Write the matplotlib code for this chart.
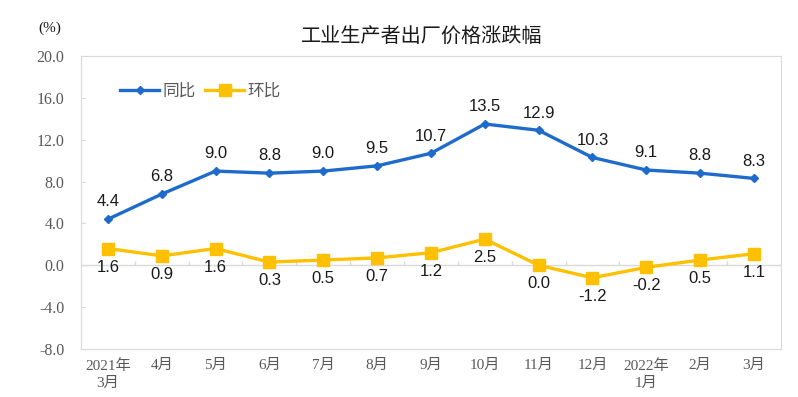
import numpy as np
import matplotlib.pyplot as plt

plt.rcParams['font.family'] = ['Liberation Sans', 'Noto Sans CJK SC']

months = ['2021年\n3月', '4月', '5月', '6月', '7月', '8月', '9月', '10月',
          '11月', '12月', '2022年\n1月', '2月', '3月']
yoy = [4.4, 6.8, 9.0, 8.8, 9.0, 9.5, 10.7, 13.5, 12.9, 10.3, 9.1, 8.8, 8.3]
mom = [1.6, 0.9, 1.6, 0.3, 0.5, 0.7, 1.2, 2.5, 0.0, -1.2, -0.2, 0.5, 1.1]
yticks = [-8.0, -4.0, 0.0, 4.0, 8.0, 12.0, 16.0, 20.0]

blue = '#1F6BCB'
yellow = '#FFC000'
grey = '#595959'

fig = plt.figure(figsize=(7.98, 3.97), dpi=100)
ax = fig.add_axes([0.1015, 0.121, 0.877, 0.738])
x = np.arange(len(months))

ax.plot(x, yoy, color=blue, lw=2.4, marker='D', ms=4.5, label='同比', zorder=3)
ax.plot(x, mom, color=yellow, lw=2.4, marker='s', ms=8.5, label='环比', zorder=3)

for xi, v in zip(x, yoy):
    ax.annotate(f'{v:.1f}', (xi, v), xytext=(0, 7), textcoords='offset points',
                ha='center', va='bottom', fontsize=12, color='#1a1a1a')
for xi, v in zip(x, mom):
    ax.annotate(f'{v:.1f}', (xi, v), xytext=(0, -8), textcoords='offset points',
                ha='center', va='top', fontsize=12, color='#1a1a1a')

ax.axhline(0, color='#D9D9D9', lw=1, zorder=1)
ax.vlines(x[:-1] + 0.5, 0, 0.4, color='#D9D9D9', lw=1, zorder=1)

ax.set_xlim(-0.5, len(months) - 0.5)
ax.set_ylim(-8, 20)
ax.set_yticks(yticks)
ax.set_yticklabels([f'{t:.1f}' for t in yticks], family='Liberation Serif',
                   fontsize=11.5, color=grey)
ax.set_xticks(x)
ax.set_xticklabels(months, family=['Liberation Serif', 'Noto Sans CJK SC'],
                   fontsize=11, color=grey, linespacing=1.4)
ax.tick_params(axis='x', length=0, pad=7)
ax.tick_params(axis='y', direction='in', length=3, color='#D9D9D9', pad=12)
for s in ax.spines.values():
    s.set_color('#D9D9D9')

fig.text(0.528, 0.905, '工业生产者出厂价格涨跌幅', ha='center', va='center',
         fontsize=14.5, family='Noto Sans CJK SC', color='#1a1a1a')
fig.text(0.063, 0.928, '(%)', ha='center', va='center', fontsize=11,
         family='Liberation Serif', color='#1a1a1a')

leg = ax.legend(loc='center left', bbox_to_anchor=(0.035, 0.88), ncol=2, frameon=False,
                fontsize=12, handlelength=2.3, columnspacing=0.6, handletextpad=0.2)
for t in leg.get_texts():
    t.set_color(grey)

fig.savefig('out.png', dpi=100)
